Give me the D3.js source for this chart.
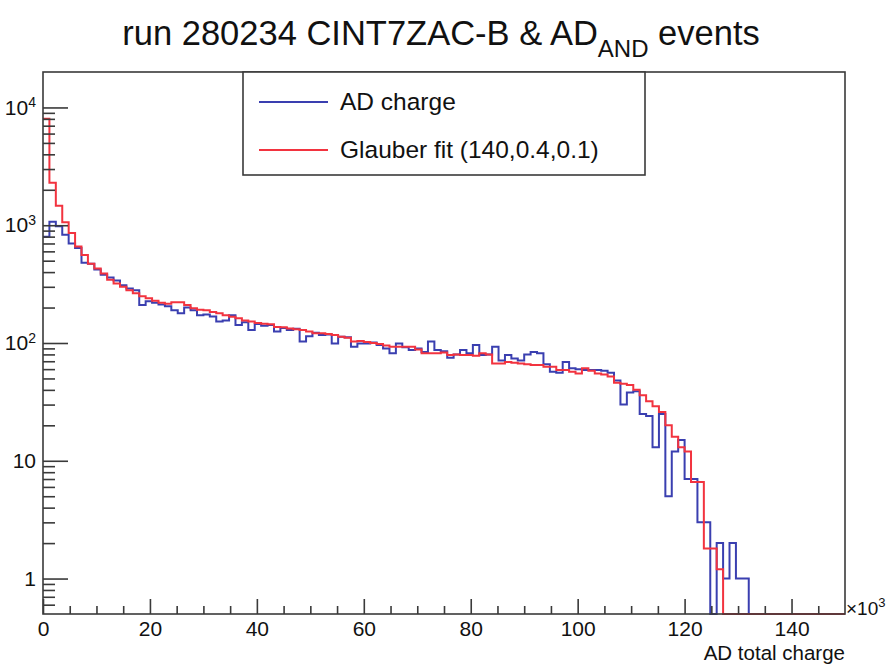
<!DOCTYPE html>
<html>
<head>
<meta charset="utf-8">
<script src="https://cdn.jsdelivr.net/npm/d3@7"></script>
<style>
  body { margin: 0; background: #fff; }
  svg { display: block; font-family: 'Liberation Sans', Arial, Helvetica, sans-serif; }
</style>
</head>
<body>
<div id="plot"></div>
<script>
// x axis in units of 10^3, 125 bins from 0 to 150
const xRange = [0, 150]
const nBins = 125
const yRange = [0.5, 20000]

const xMajorTicks = [0, 20, 40, 60, 80, 100, 120, 140]
const xMinorTicks = [5, 10, 15, 25, 30, 35, 45, 50, 55, 65, 70, 75, 85, 90, 95, 105, 110, 115, 125, 130, 135, 145]
const yMajorTicks = [1, 10, 100, 1000, 10000]
const yMinorTicks = [
  0.6, 0.7, 0.8, 0.9,
  2, 3, 4, 5, 6, 7, 8, 9,
  20, 30, 40, 50, 60, 70, 80, 90,
  200, 300, 400, 500, 600, 700, 800, 900,
  2000, 3000, 4000, 5000, 6000, 7000, 8000, 9000
]

const adCharge = [
  800, 1070, 980, 830, 700, 640, 480, 470, 420, 380,
  360, 340, 310, 290, 280, 210, 226, 220, 212, 205,
  190, 179, 200, 190, 172, 175, 168, 152, 155, 172,
  142, 150, 129, 145, 140, 142, 125, 134, 129, 132,
  103, 114, 122, 117, 118, 99, 113, 112, 93, 99,
  99, 101, 96, 90, 82, 99, 92, 87, 90, 84,
  103, 87, 85, 75, 80, 87, 82, 96, 79, 80,
  93, 71, 79, 74, 71, 80, 84, 82, 66, 57,
  56, 69, 61, 60, 59, 59, 59, 58, 56, 48,
  30, 38, 39, 25, 24, 13, 25, 5, 12, 15,
  7, 7, 3, 3, 0, 2, 1, 2, 1, 1,
  0, 0, 0, 0, 0, 0, 0, 0, 0, 0,
  0, 0, 0, 0, 0
]

const glauberFit = [
  8000, 2300, 1460, 1060, 860, 660, 560, 470, 430, 390,
  345, 320, 300, 280, 265, 250, 240, 228, 220, 215,
  222, 222, 210, 197, 192, 190, 183, 179, 172, 167,
  162, 155, 152, 148, 146, 144, 137, 136, 133, 131,
  129, 125, 121, 121, 119, 117, 113, 111, 103, 104,
  102, 100, 98, 95, 93, 93, 93, 93, 88, 82,
  82, 82, 83, 79, 80, 79, 79, 78, 82, 80,
  67, 67, 69, 68, 67, 66, 65, 65, 63, 63,
  59, 59, 57, 55, 61, 58, 55, 54, 52, 46,
  45, 44, 40, 36, 32, 29, 26, 20, 16, 13,
  12, 6.6, 6.6, 1.8, 1.8, 1.2, 0, 0, 0, 0,
  0, 0, 0, 0, 0, 0, 0, 0, 0, 0,
  0, 0, 0, 0, 0
]

const seriesNames = ['AD charge', 'Glauber fit (140,0.4,0.1)']
const seriesColors = ['#3a3fb0', '#f2333f']

class ChargePlotter {
  constructor (parent) {
    this.width = 892
    this.height = 664
    this.frame = { left: 43, top: 72, right: 845, bottom: 614 }

    this.svg = d3.select(parent).append('svg')
      .attr('width', this.width)
      .attr('height', this.height)

    this.x = d3.scaleLinear().domain(xRange).range([this.frame.left, this.frame.right])
    this.y = d3.scaleLog().domain(yRange).range([this.frame.bottom, this.frame.top])

    this.drawHistograms()
    this.drawFrame()
    this.drawAxes()
    this.drawLegend()
    this.drawLabels()
  }

  drawHistograms () {
    const bw = (xRange[1] - xRange[0]) / nBins
    const line = d3.line()
      .x(d => this.x(d[0]))
      .y(d => this.y(Math.max(d[1], yRange[0])))

    const series = [adCharge, glauberFit]
    series.forEach((values, k) => {
      const pts = values.flatMap((v, i) => [[i * bw, v], [(i + 1) * bw, v]])
      this.svg.append('path')
        .attr('d', line(pts))
        .attr('fill', 'none')
        .attr('stroke', seriesColors[k])
        .attr('stroke-width', 2)
    })
  }

  drawFrame () {
    const f = this.frame
    this.svg.append('rect')
      .attr('x', f.left)
      .attr('y', f.top)
      .attr('width', f.right - f.left)
      .attr('height', f.bottom - f.top)
      .attr('fill', 'none')
      .attr('stroke', '#3a3a3a')
      .attr('stroke-width', 1.6)
  }

  drawAxes () {
    const f = this.frame
    const style = g => {
      g.select('.domain').remove()
      g.selectAll('line').attr('stroke', '#3a3a3a').attr('stroke-width', 1.6)
      g.selectAll('text').attr('fill', '#111').attr('font-size', 21)
        .attr('font-family', 'Liberation Sans, Arial, sans-serif')
    }

    this.svg.append('g')
      .attr('transform', `translate(0,${f.bottom})`)
      .call(d3.axisBottom(this.x).tickValues(xMajorTicks).tickSize(-15).tickPadding(7).tickFormat(d3.format('d')))
      .call(style)

    this.svg.append('g')
      .attr('transform', `translate(0,${f.bottom})`)
      .call(d3.axisBottom(this.x).tickValues(xMinorTicks).tickSize(-8).tickFormat(''))
      .call(style)

    const yAxis = this.svg.append('g')
      .attr('transform', `translate(${f.left},0)`)
      .call(d3.axisLeft(this.y).tickValues(yMajorTicks).tickSize(-25).tickPadding(7).tickFormat(''))
      .call(style)

    yAxis.selectAll('.tick text').each(function (d) {
      const t = d3.select(this)
      const exp = Math.round(Math.log10(d))
      if (exp < 2) {
        t.text(String(d))
      } else {
        t.text('10')
        t.append('tspan').text(exp).attr('font-size', 14).attr('dy', '-0.55em')
      }
    })

    this.svg.append('g')
      .attr('transform', `translate(${f.left},0)`)
      .call(d3.axisLeft(this.y).tickValues(yMinorTicks).tickSize(-12).tickFormat(''))
      .call(style)
  }

  drawLegend () {
    const g = this.svg.append('g')
    g.append('rect')
      .attr('x', 243)
      .attr('y', 72)
      .attr('width', 402)
      .attr('height', 103)
      .attr('fill', '#fff')
      .attr('stroke', '#3a3a3a')
      .attr('stroke-width', 1.6)

    const rowY = [102, 150]
    seriesNames.forEach((name, i) => {
      g.append('line')
        .attr('x1', 259)
        .attr('x2', 328)
        .attr('y1', rowY[i])
        .attr('y2', rowY[i])
        .attr('stroke', seriesColors[i])
        .attr('stroke-width', 2)
      g.append('text')
        .attr('x', 340)
        .attr('y', rowY[i] + 8)
        .attr('font-size', 24.5)
        .attr('fill', '#111')
        .text(name)
    })
  }

  drawLabels () {
    const title = this.svg.append('text')
      .attr('x', 441)
      .attr('y', 45)
      .attr('text-anchor', 'middle')
      .attr('font-size', 34.5)
      .attr('fill', '#111')
    title.append('tspan').text('run 280234 CINT7ZAC-B & AD')
    title.append('tspan').text('AND').attr('font-size', 24).attr('dy', 12)
    title.append('tspan').text(' events').attr('dy', -12)

    const mult = this.svg.append('text')
      .attr('x', 846)
      .attr('y', 615)
      .attr('font-size', 19)
      .attr('fill', '#111')
    mult.append('tspan').text('×10')
    mult.append('tspan').text('3').attr('font-size', 13).attr('dy', -8)

    this.svg.append('text')
      .attr('x', 845)
      .attr('y', 660)
      .attr('text-anchor', 'end')
      .attr('font-size', 20.5)
      .attr('fill', '#111')
      .text('AD total charge')
  }
}

new ChargePlotter('#plot')
</script>
</body>
</html>
